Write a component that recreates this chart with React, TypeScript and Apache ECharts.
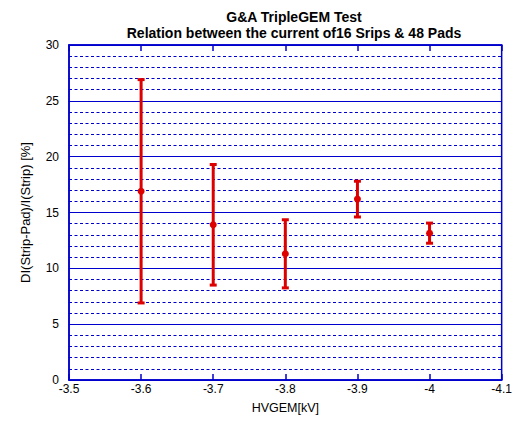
import React, { useEffect, useRef } from "react";
import * as echarts from "echarts";

// HV on the GEM stack [kV]
const hvGem = [-3.6, -3.7, -3.8, -3.9, -4.0];
// relative current difference (Strip - Pad) / Strip [%]
const ratio = [16.9, 13.9, 11.3, 16.2, 13.15];
// symmetric error on the ratio [%]
const ratioErr = [10.0, 5.4, 3.05, 1.6, 0.9];

const BLUE = "#0000cc";
const RED = "#dd0000";
const FONT = "Liberation Sans, Arial, sans-serif";

const fmtX = (v: number) => String(Math.round(v * 10) / 10);

export default function App() {
  const ref = useRef<HTMLDivElement>(null);

  useEffect(() => {
    if (!ref.current) return;
    const chart = echarts.init(ref.current, null, { renderer: "svg" });

    const data = hvGem.map((x, i) => [x, ratio[i], ratio[i] - ratioErr[i], ratio[i] + ratioErr[i]]);

    const renderItem = (params: any, api: any) => {
      const x = api.value(0);
      const c = api.coord([x, api.value(1)]);
      const lo = api.coord([x, api.value(2)]);
      const hi = api.coord([x, api.value(3)]);
      const capW = 3.5;
      const style = { stroke: RED, lineWidth: 3, fill: "none" };
      return {
        type: "group",
        children: [
          { type: "line", shape: { x1: lo[0], y1: lo[1], x2: hi[0], y2: hi[1] }, style },
          { type: "line", shape: { x1: hi[0] - capW, y1: hi[1], x2: hi[0] + capW, y2: hi[1] }, style },
          { type: "line", shape: { x1: lo[0] - capW, y1: lo[1], x2: lo[0] + capW, y2: lo[1] }, style },
          { type: "circle", shape: { cx: c[0], cy: c[1], r: 3.5 }, style: { fill: RED } },
        ],
      };
    };

    chart.setOption({
      animation: false,
      backgroundColor: "#ffffff",
      title: {
        text: "G&A TripleGEM Test\nRelation between the current of16 Srips & 48 Pads",
        left: 289,
        top: 4,
        textAlign: "center",
        textStyle: { fontFamily: FONT, fontSize: 14, fontWeight: "bold", color: "#000", lineHeight: 16 },
      },
      grid: {
        left: 69,
        right: 8.5,
        top: 45,
        bottom: 45,
        show: true,
        borderColor: BLUE,
        borderWidth: 1.5,
        backgroundColor: "transparent",
      },
      xAxis: [
        {
          type: "value",
          min: -4.1,
          max: -3.5,
          interval: 0.1,
          inverse: true,
          name: "HVGEM[kV]",
          nameLocation: "middle",
          nameGap: 21,
          nameTextStyle: { fontFamily: FONT, fontSize: 12.5, color: "#000" },
          axisLine: { show: true, lineStyle: { color: BLUE, width: 1.5 } },
          axisTick: { show: true, inside: true, length: 6, lineStyle: { color: BLUE, width: 1.5 } },
          axisLabel: { formatter: fmtX, fontFamily: FONT, fontSize: 12, color: "#000", margin: 3 },
          splitLine: { show: false },
        },
        {
          type: "value",
          position: "top",
          min: -4.1,
          max: -3.5,
          interval: 0.1,
          inverse: true,
          axisLine: { show: true, lineStyle: { color: BLUE, width: 1.5 } },
          axisTick: { show: true, inside: true, length: 6, lineStyle: { color: BLUE, width: 1.5 } },
          axisLabel: { show: false },
          splitLine: { show: false },
        },
      ],
      yAxis: {
        type: "value",
        min: 0,
        max: 30,
        interval: 5,
        name: "DI(Strip-Pad)/I(Strip) [%]",
        nameLocation: "middle",
        nameGap: 37,
        nameTextStyle: { fontFamily: FONT, fontSize: 13, color: "#000" },
        axisLine: { show: true, lineStyle: { color: BLUE, width: 1.5 } },
        axisTick: { show: false },
        axisLabel: { fontFamily: FONT, fontSize: 12, color: "#000", margin: 10 },
        splitLine: { show: true, lineStyle: { color: BLUE, width: 1.2, type: "solid" } },
        minorTick: { show: false, splitNumber: 5 },
        minorSplitLine: { show: true, lineStyle: { color: BLUE, width: 1.1, type: [3, 2.5] } },
      },
      series: [
        {
          type: "custom",
          xAxisIndex: 0,
          renderItem,
          data,
          encode: { x: 0, y: [1, 2, 3] },
          z: 10,
        },
      ],
    });

    return () => chart.dispose();
  }, []);

  return (
    <div
      ref={ref}
      style={{ position: "fixed", left: 0, top: 0, width: 515, height: 425, background: "#fff" }}
    />
  );
}
